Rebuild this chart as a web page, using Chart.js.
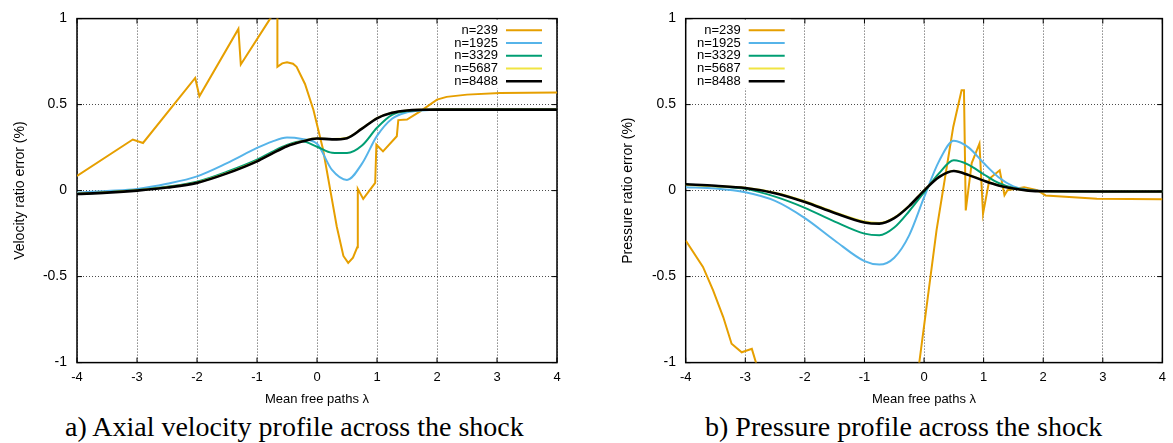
<!DOCTYPE html>
<html>
<head>
<meta charset="utf-8">
<script src="https://cdn.jsdelivr.net/npm/chart.js@4.4.0/dist/chart.umd.min.js"></script>
<style>
body { margin: 0; background: #fff; width: 1173px; height: 443px; position: relative; overflow: hidden; }
canvas { position: absolute; top: 0; }
.cap { position: absolute; top: 413px; font: 28px 'Liberation Serif', serif; line-height: 28px; color: #000; white-space: nowrap; }
</style>
</head>
<body>
<canvas id="chart" width="580" height="410" style="left:0"></canvas>
<canvas id="chart2" width="583" height="410" style="left:590px"></canvas>
<div class="cap" style="left:65px">a) Axial velocity profile across the shock</div>
<div class="cap" style="left:705px">b) Pressure profile across the shock</div>
<script>
const graf = document.getElementById('chart');
const graf2 = document.getElementById('chart2');

const labels = ['n=239', 'n=1925', 'n=3329', 'n=5687', 'n=8488'];
const colors = ['#E69F00', '#56B4E9', '#009E73', '#F0E442', '#000000'];
const widths = [2, 2, 2, 2, 2.6];
const xTicks = [-4, -3, -2, -1, 0, 1, 2, 3, 4];
const yTicks = [-1, -0.5, 0, 0.5, 1];

// shared x grid for the smooth runs
const xs = [-4, -3.5, -3, -2.5, -2, -1.5, -1, -0.75, -0.5, -0.25, 0, 0.25, 0.5, 0.75, 1, 1.25, 1.5, 1.75, 2, 3, 4];

// a) velocity
const velX239 = [-4, -3.07, -2.9, -2.03, -1.96, -1.31, -1.27, -0.78, -0.66, -0.66, -0.58, -0.5, -0.4, -0.34, -0.2, -0.06, 0.1, 0.22, 0.33, 0.44, 0.52, 0.6, 0.67, 0.68, 0.77, 0.97, 0.99, 1.1, 1.33, 1.355, 1.5, 1.72, 2.0, 2.16, 2.5, 3.05, 4];
const velY239 = [0.085, 0.297, 0.277, 0.655, 0.548, 0.94, 0.733, 1.0, 1.065, 0.72, 0.74, 0.746, 0.738, 0.72, 0.62, 0.47, 0.24, 0.006, -0.21, -0.38, -0.42, -0.39, -0.33, 0.01, -0.048, 0.045, 0.267, 0.228, 0.316, 0.41, 0.413, 0.461, 0.529, 0.545, 0.558, 0.568, 0.57];
const vel1925 = [-0.012, -0.002, 0.01, 0.04, 0.083, 0.16, 0.248, 0.285, 0.308, 0.3, 0.272, 0.12, 0.062, 0.157, 0.318, 0.418, 0.455, 0.466, 0.47, 0.471, 0.471];
const vel3329 = [-0.02, -0.01, 0.003, 0.022, 0.052, 0.11, 0.18, 0.225, 0.265, 0.287, 0.255, 0.22, 0.218, 0.262, 0.365, 0.44, 0.462, 0.469, 0.471, 0.471, 0.471];
const vel5687 = [-0.018, -0.01, 0.002, 0.02, 0.047, 0.102, 0.172, 0.217, 0.26, 0.287, 0.304, 0.3, 0.307, 0.362, 0.422, 0.453, 0.466, 0.47, 0.471, 0.471, 0.471];
const vel8488 = [-0.02, -0.012, 0.0, 0.018, 0.045, 0.1, 0.17, 0.215, 0.258, 0.285, 0.303, 0.298, 0.305, 0.36, 0.42, 0.452, 0.466, 0.47, 0.471, 0.471, 0.471];

// b) pressure
const preX239 = [-4, -3.71, -3.54, -3.37, -3.23, -3.06, -2.89, -2.82, -2.7, -0.2, -0.08, 0.21, 0.49, 0.63, 0.67, 0.70, 0.8, 0.93, 0.99, 1.1, 1.27, 1.35, 1.4, 1.68, 1.9, 2.04, 2.9, 4];
const preY239 = [-0.29, -0.444, -0.58, -0.735, -0.89, -0.94, -0.92, -1.0, -1.3, -1.3, -1.0, -0.23, 0.37, 0.583, 0.583, -0.115, 0.16, 0.273, -0.134, 0.07, 0.118, -0.027, 0.002, 0.02, 0.002, -0.028, -0.047, -0.05];
const pre1925 = [0.02, 0.012, -0.01, -0.06, -0.16, -0.29, -0.41, -0.43, -0.39, -0.26, -0.04, 0.17, 0.29, 0.25, 0.16, 0.078, 0.025, 0.005, -0.003, -0.005, -0.005];
const pre3329 = [0.035, 0.025, 0.01, -0.035, -0.1, -0.18, -0.25, -0.26, -0.215, -0.12, -0.01, 0.1, 0.176, 0.15, 0.095, 0.044, 0.015, 0.002, -0.004, -0.005, -0.005];
const pre5687 = [0.033, 0.026, 0.017, -0.012, -0.062, -0.126, -0.18, -0.188, -0.157, -0.088, 0.002, 0.08, 0.116, 0.092, 0.06, 0.031, 0.012, 0.0, -0.004, -0.005, -0.005];
const pre8488 = [0.037, 0.028, 0.015, -0.015, -0.066, -0.13, -0.185, -0.192, -0.16, -0.09, 0.0, 0.078, 0.114, 0.09, 0.058, 0.03, 0.012, 0.0, -0.004, -0.005, -0.005];

Chart.defaults.font.family = "'Liberation Sans', Arial, sans-serif";
Chart.defaults.color = '#000';

function pts(x, y) {
    return x.map((v, i) => ({ x: v, y: y[i] }));
}

function makeData(series) {
    return {
        datasets: series.map((s, i) => ({
            label: labels[i],
            data: pts(s[0], s[1]),
            borderColor: colors[i],
            backgroundColor: colors[i],
            borderWidth: widths[i],
            pointRadius: 0,
            tension: 0,
            cubicInterpolationMode: i == 0 ? 'default' : 'monotone',
            order: 4 - i
        }))
    };
}

// border box with gnuplot-like inward ticks
const frame = {
    id: 'frame',
    beforeDatasetsDraw(chart) {
        const ctx = chart.ctx, a = chart.chartArea;
        const sx = chart.scales.x, sy = chart.scales.y;
        ctx.save();
        ctx.strokeStyle = '#000';
        ctx.lineWidth = 1;
        ctx.beginPath();
        xTicks.forEach(v => {
            const p = sx.getPixelForValue(v);
            ctx.moveTo(p, a.bottom); ctx.lineTo(p, a.bottom - 5);
            ctx.moveTo(p, a.top); ctx.lineTo(p, a.top + 5);
        });
        yTicks.forEach(v => {
            const p = sy.getPixelForValue(v);
            ctx.moveTo(a.left, p); ctx.lineTo(a.left + 5, p);
            ctx.moveTo(a.right, p); ctx.lineTo(a.right - 5, p);
        });
        ctx.stroke();
        ctx.lineWidth = 1.5;
        ctx.strokeRect(a.left, a.top, a.width, a.height);
        ctx.restore();
    }
};

// opaque key inside the plot: label, then line sample
const keyBox = {
    id: 'keyBox',
    afterDatasetsDraw(chart, args, o) {
        const ctx = chart.ctx, a = chart.chartArea;
        const tx = o.fromRight ? a.right - o.dx : a.left + o.dx;
        ctx.save();
        ctx.fillStyle = '#fff';
        ctx.fillRect(tx - 48, a.top + 1, 98, 69);
        ctx.font = "13px 'Liberation Sans', Arial, sans-serif";
        ctx.textAlign = 'right';
        ctx.textBaseline = 'middle';
        chart.data.datasets.forEach((d, i) => {
            const y = a.top + 11.6 + i * 12.75;
            ctx.fillStyle = '#000';
            ctx.fillText(d.label, tx, y);
            ctx.strokeStyle = d.borderColor;
            ctx.lineWidth = d.borderWidth;
            ctx.beginPath();
            ctx.moveTo(tx + 8, y);
            ctx.lineTo(tx + 44, y);
            ctx.stroke();
        });
        ctx.restore();
    }
};

function makeOptions(yTitle, yW, titlePad, tickPad, padRight, key) {
    const gridStyle = { color: 'rgba(0,0,0,0.7)', drawTicks: false, tickLength: 0, lineWidth: 1 };
    return {
        responsive: false,
        animation: false,
        devicePixelRatio: 1,
        layout: { padding: { left: 0, right: padRight, top: 18.6, bottom: 0 } },
        plugins: {
            legend: { display: false },
            tooltip: { enabled: false },
            keyBox: key
        },
        scales: {
            x: {
                type: 'linear', min: -4, max: 4,
                afterBuildTicks: s => { s.ticks = xTicks.map(v => ({ value: v })); },
                afterFit: s => { s.height = 47.4; },
                ticks: { padding: 7, font: { size: 13 }, maxRotation: 0, callback: v => String(v) },
                grid: gridStyle,
                border: { display: false, dash: [1, 2] },
                title: { display: true, text: 'Mean free paths λ', font: { size: 13 }, padding: { top: 0, bottom: 3.2 } }
            },
            y: {
                min: -1, max: 1,
                afterBuildTicks: s => { s.ticks = yTicks.map(v => ({ value: v })); },
                afterFit: s => { s.width = yW; },
                ticks: { padding: tickPad, font: { size: 14 }, callback: v => String(v) },
                grid: gridStyle,
                border: { display: false, dash: [1, 2] },
                title: { display: true, text: yTitle, font: { size: 14 }, padding: { top: titlePad, bottom: 0 } }
            }
        }
    };
}

new Chart(graf, {
    type: 'line',
    data: makeData([[velX239, velY239], [xs, vel1925], [xs, vel3329], [xs, vel5687], [xs, vel8488]]),
    options: makeOptions('Velocity ratio error (%)', 77, 11.6, 10, 23, { fromRight: true, dx: 59 }),
    plugins: [frame, keyBox]
});

new Chart(graf2, {
    type: 'line',
    data: makeData([[preX239, preY239], [xs, pre1925], [xs, pre3329], [xs, pre5687], [xs, pre8488]]),
    options: makeOptions('Pressure ratio error (%)', 95.7, 29.9, 9.7, 7.3, { fromRight: false, dx: 55 }),
    plugins: [frame, keyBox]
});
</script>
</body>
</html>
